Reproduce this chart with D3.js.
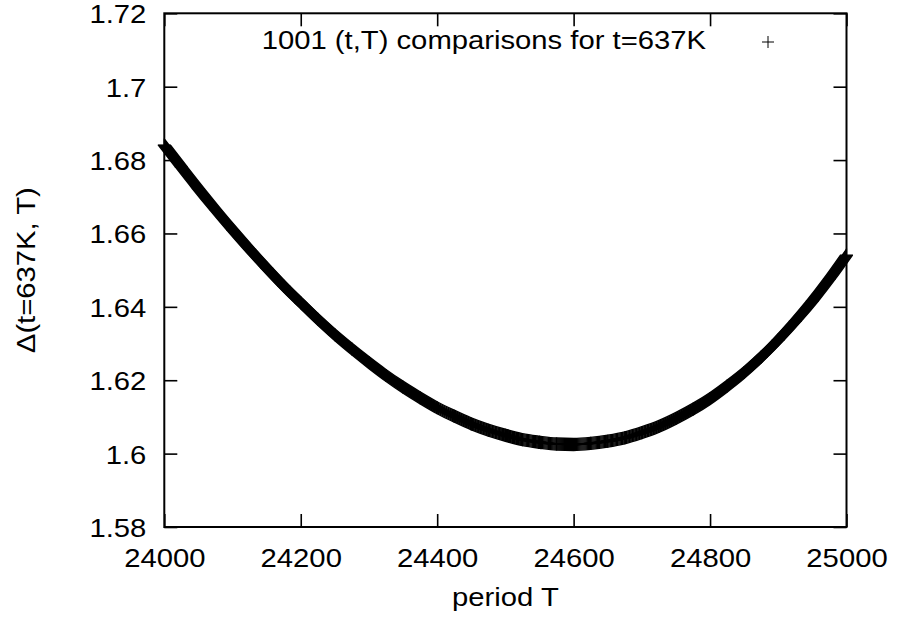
<!DOCTYPE html>
<html>
<head>
<meta charset="utf-8">
<script src="https://cdn.jsdelivr.net/npm/d3@7"></script>
<style>
  html, body { margin: 0; padding: 0; background: #fff; }
  svg { display: block; }
  text { font-family: "Liberation Sans", Arial, sans-serif; fill: #000; }
</style>
</head>
<body>
<svg id="chart" width="898" height="623"></svg>
<script>
// Period T (x) and the comparison measure Δ(t=637K, T) (y)
const periods = [
  24000, 24025, 24050, 24075, 24100, 24125, 24150, 24175, 24200, 24225,
  24250, 24275, 24300, 24325, 24350, 24375, 24400, 24425, 24450, 24475,
  24500, 24525, 24550, 24575, 24600, 24625, 24650, 24675, 24700, 24725,
  24750, 24775, 24800, 24825, 24850, 24875, 24900, 24925, 24950, 24975,
  25000
];
const delta = [
  1.6841, 1.6781, 1.6722, 1.6665, 1.6610, 1.6557, 1.6506, 1.6457, 1.6411, 1.6366,
  1.6324, 1.6285, 1.6248, 1.6213, 1.6181, 1.6152, 1.6125, 1.6102, 1.6081, 1.6064,
  1.6050, 1.6038, 1.6031, 1.6026, 1.6025, 1.6028, 1.6034, 1.6043, 1.6057, 1.6074,
  1.6096, 1.6121, 1.6150, 1.6184, 1.6221, 1.6263, 1.6310, 1.6361, 1.6416, 1.6476,
  1.6541
];
const xTicks = [24000, 24200, 24400, 24600, 24800, 25000];
const yTicks = [1.58, 1.60, 1.62, 1.64, 1.66, 1.68, 1.70, 1.72];
const yTickLabels = ["1.58", "1.6", "1.62", "1.64", "1.66", "1.68", "1.7", "1.72"];
const seriesLabel = "1001 (t,T) comparisons for t=637K";
const xTitle = "period T";
const yTitle = "Δ(t=637K, T)";

const svg = d3.select("#chart");
const plotL = 164.3, plotR = 846.5, plotT = 13.3, plotB = 527;
const FS = 25, SX = 1.17;     // font size and horizontal stretch of the labels
const TICK = 13;               // inward tick length
const PT = 6.5;                // half-size of the "+" point symbol

const x = d3.scaleLinear().domain([24000, 25000]).range([plotL, plotR]);
const y = d3.scaleLinear().domain([1.58, 1.72]).range([plotB, plotT]);

const pts = periods.map((t, i) => ({ t, v: delta[i] }));

// ---- point band: the "+" symbol swept along the series ----
const line = d3.line().x(d => x(d.t)).y(d => y(d.v)).curve(d3.curveMonotoneX);
const pathD = line(pts);
const band = svg.append("g");
const offs = d3.range(-PT + 0.5, PT, 1);
offs.forEach(o => {
  band.append("path").attr("d", pathD).attr("transform", `translate(0,${o})`)
    .attr("fill", "none").attr("stroke", "#000").attr("stroke-width", 1.4);
  band.append("path").attr("d", pathD).attr("transform", `translate(${o},0)`)
    .attr("fill", "none").attr("stroke", "#000").attr("stroke-width", 1.4);
});
band.selectAll("path.pt").data(pts).join("path")
  .attr("class", "pt")
  .attr("d", d => `M${x(d.t) - PT},${y(d.v)}H${x(d.t) + PT}M${x(d.t)},${y(d.v) - PT}V${y(d.v) + PT}`)
  .attr("stroke", "#000").attr("stroke-width", 1.2).attr("fill", "none");

// ---- axes (ticks mirrored on all four sides, pointing inward) ----
const axisStyle = g => {
  g.select(".domain").remove();
  g.selectAll(".tick line").attr("stroke", "#000").attr("stroke-width", 1.6);
};

const gL = svg.append("g").attr("transform", `translate(${plotL},0)`)
  .call(d3.axisLeft(y).tickValues(yTicks).tickSize(-TICK)
    .tickFormat((d, i) => yTickLabels[i]))
  .call(axisStyle);
gL.selectAll(".tick text")
  .attr("font-size", FS).attr("font-family", "Liberation Sans, Arial, sans-serif")
  .attr("text-anchor", "end").attr("dy", null)
  .attr("x", -18 / SX).attr("y", 9.5)
  .attr("transform", `scale(${SX},1)`);

svg.append("g").attr("transform", `translate(${plotR},0)`)
  .call(d3.axisRight(y).tickValues(yTicks).tickSize(-TICK).tickFormat(""))
  .call(axisStyle);

const gB = svg.append("g").attr("transform", `translate(0,${plotB})`)
  .call(d3.axisBottom(x).tickValues(xTicks).tickSize(-TICK).tickFormat(d3.format("d")))
  .call(axisStyle);
gB.selectAll(".tick text")
  .attr("font-size", FS).attr("font-family", "Liberation Sans, Arial, sans-serif")
  .attr("text-anchor", "middle").attr("dy", null)
  .attr("y", 40).attr("x", 0)
  .attr("transform", `scale(${SX},1)`);

svg.append("g").attr("transform", `translate(0,${plotT})`)
  .call(d3.axisTop(x).tickValues(xTicks).tickSize(-TICK).tickFormat(""))
  .call(axisStyle);

// ---- plot frame ----
svg.append("rect")
  .attr("x", plotL).attr("y", plotT)
  .attr("width", plotR - plotL).attr("height", plotB - plotT)
  .attr("fill", "none").attr("stroke", "#000").attr("stroke-width", 2);

// ---- key ----
svg.append("text")
  .attr("transform", `translate(706,49) scale(${SX},1)`)
  .attr("text-anchor", "end").attr("font-size", FS)
  .text(seriesLabel);
const kx = 768, ky = 42, ks = 6;
svg.append("path")
  .attr("d", `M${kx - ks},${ky}H${kx + ks}M${kx},${ky - ks}V${ky + ks}`)
  .attr("stroke", "#000").attr("stroke-width", 1);

// ---- axis titles ----
svg.append("text")
  .attr("transform", `translate(${(plotL + plotR) / 2},606) scale(${SX},1)`)
  .attr("text-anchor", "middle").attr("font-size", FS)
  .text(xTitle);
svg.append("text")
  .attr("transform", `translate(35,${(plotT + plotB) / 2}) rotate(-90) scale(${SX},1)`)
  .attr("text-anchor", "middle").attr("font-size", FS)
  .text(yTitle);
</script>
</body>
</html>
